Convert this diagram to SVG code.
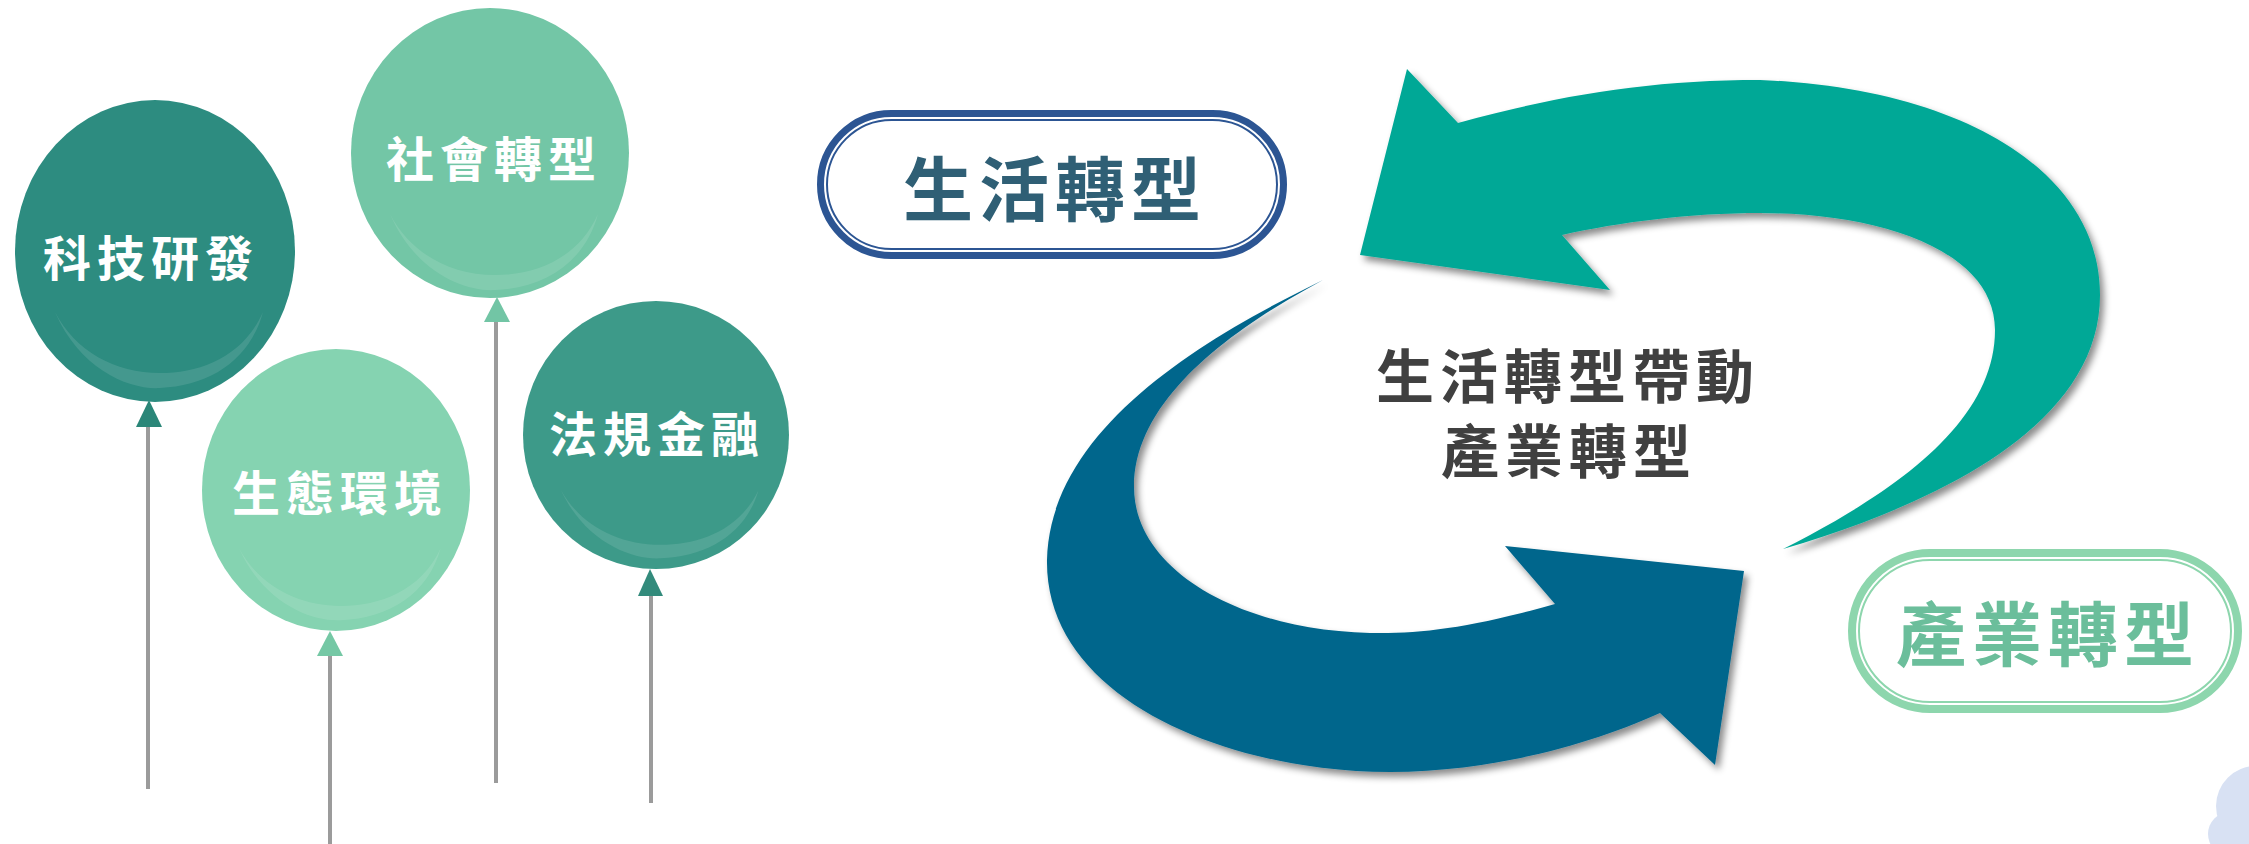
<svg xmlns="http://www.w3.org/2000/svg" width="2249" height="844" viewBox="0 0 2249 844">
<style>
.bt{font-family:"Noto Sans CJK TC","Noto Sans CJK SC",sans-serif;font-weight:700;font-size:48px;fill:#ffffff;text-anchor:middle;dominant-baseline:central;letter-spacing:6px}
.pt{font-family:"Noto Sans CJK TC","Noto Sans CJK SC",sans-serif;font-weight:700;font-size:70px;text-anchor:middle;dominant-baseline:central;letter-spacing:6px}
.ct{font-family:"Noto Sans CJK TC","Noto Sans CJK SC",sans-serif;font-weight:700;font-size:58px;fill:#404040;text-anchor:middle;letter-spacing:6px}
.str{stroke:#9b9b9b;stroke-width:4;fill:none}
.hl{fill:#ffffff;opacity:0.11}
</style>
<defs>
<path id="hl" d="M -100,61 C -75,119 -25,139 5,137 C 55,135 95,109 108,61 C 88,106 45,122 5,122 C -40,122 -80,100 -100,61 Z"/>
<filter id="sh" x="-10%" y="-10%" width="120%" height="120%">
<feDropShadow dx="4" dy="5" stdDeviation="3.5" flood-color="#000" flood-opacity="0.45"/>
</filter>
</defs>
<rect width="2249" height="844" fill="#ffffff"/>

<g id="balloon-keji">
<line class="str" x1="148" y1="425" x2="148" y2="789"/>
<polygon points="149,400 136,427 162,427" fill="#2a8678"/>
<ellipse cx="155" cy="251" rx="140" ry="151" fill="#2d8c80"/>
<use href="#hl" class="hl" transform="translate(155,251)"/>
<text class="bt" x="151" y="255">科技研發</text>
</g>

<g id="balloon-shehui">
<line class="str" x1="496" y1="318" x2="496" y2="783"/>
<polygon points="497,297 484,322 510,322" fill="#72c5a5"/>
<ellipse cx="490" cy="153" rx="139" ry="145" fill="#73c6a6"/>
<use href="#hl" class="hl" transform="translate(490,153)"/>
<text class="bt" x="494" y="156">社會轉型</text>
</g>

<g id="balloon-fagui">
<line class="str" x1="651" y1="594" x2="651" y2="803"/>
<polygon points="650,569 638,596 663,596" fill="#338b7c"/>
<ellipse cx="656" cy="435" rx="133" ry="134" fill="#3d9a89"/>
<use href="#hl" class="hl" transform="translate(656,435) scale(0.95,0.9)"/>
<text class="bt" x="657" y="431">法規金融</text>
</g>

<g id="balloon-shengtai">
<line class="str" x1="330" y1="653" x2="330" y2="844"/>
<polygon points="330,631 317,656 343,656" fill="#75c8a5"/>
<ellipse cx="336" cy="490" rx="134" ry="141" fill="#85d3b1"/>
<use href="#hl" class="hl" transform="translate(336,490) scale(0.97,0.95)"/>
<text class="bt" x="340" y="490">生態環境</text>
</g>

<g id="connectors" filter="url(#sh)">
<path id="arrow-teal" fill="#02a896" d="M1407,69 L1458,123 C1560,95 1650,80 1760,80 C1960,88 2100,170 2100,295 C2100,420 1950,500 1783,549 C1900,490 1995,420 1995,330 C1995,250 1880,213 1760,213 C1690,213 1620,222 1562,235 L1610,290 L1360,255 Z"/>
<path id="arrow-blue" fill="#06668c" d="M1323,280 C1200,340 1050,430 1047,560 C1045,700 1230,772 1390,772 C1490,772 1590,745 1660,713 L1715,765 L1744,571 L1505,546 L1555,604 C1470,628 1420,634 1370,633 C1240,630 1134,570 1134,487 C1134,400 1230,330 1323,280 Z"/>
</g>

<g id="center-label">
<text class="ct" x="1568" y="398">生活轉型帶動<tspan x="1569" y="473">產業轉型</tspan></text>
</g>

<g id="pill-life">
<rect x="820.5" y="113.5" width="463" height="142" rx="71" fill="#ffffff" stroke="#2c5593" stroke-width="7"/>
<rect x="827" y="120" width="450" height="129" rx="64.5" fill="none" stroke="#2c5593" stroke-width="2"/>
<text class="pt" x="1055" y="185" fill="#2f5f75">生活轉型</text>
</g>

<g id="pill-industry">
<rect x="1852" y="553" width="386" height="156" rx="78" fill="#ffffff" stroke="#8dd6ad" stroke-width="8"/>
<rect x="1859" y="560" width="372" height="142" rx="71" fill="none" stroke="#8dd6ad" stroke-width="2"/>
<text class="pt" x="2048" y="630" fill="#6bbe9b">產業轉型</text>
</g>

<g id="cloud" fill="#d8e1f3">
<circle cx="2256" cy="806" r="40"/>
<circle cx="2230" cy="834" r="22"/>
</g>
</svg>
